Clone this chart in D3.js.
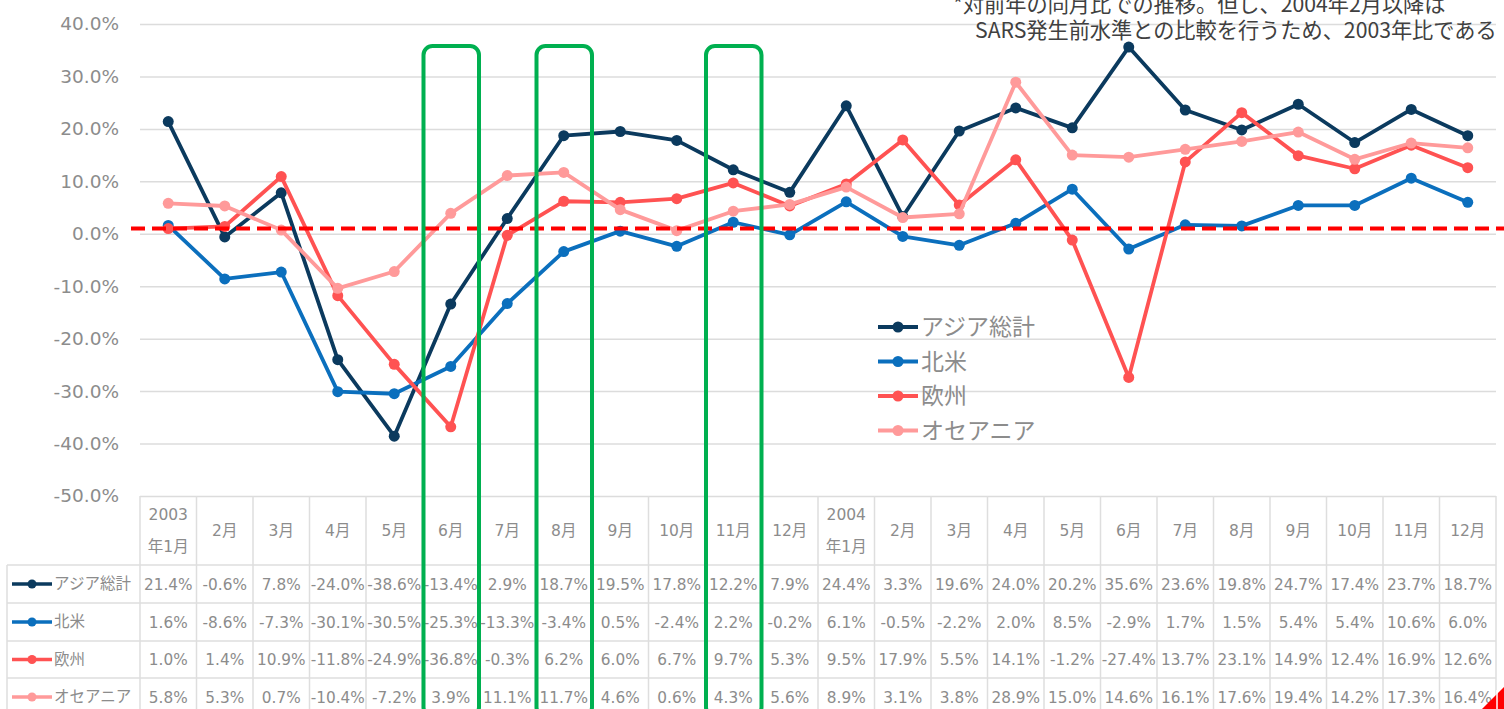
<!DOCTYPE html>
<html lang="ja">
<head>
<meta charset="utf-8">
<script src="https://cdnjs.cloudflare.com/ajax/libs/d3/7.8.5/d3.min.js"></script>
<style>
  body { margin: 0; background: #fff; }
  svg text { font-family: "DejaVu Sans", "Noto Sans CJK JP", sans-serif; }
  svg text.jp { font-family: "Noto Sans CJK JP", "DejaVu Sans", sans-serif; }
</style>
</head>
<body>
<script>
// ---- data
var months = ["2003\n年1月","2月","3月","4月","5月","6月","7月","8月","9月","10月","11月","12月",
              "2004\n年1月","2月","3月","4月","5月","6月","7月","8月","9月","10月","11月","12月"];
var seriesNames = ["アジア総計", "北米", "欧州", "オセアニア"];
var asia    = [21.4,-0.6,7.8,-24.0,-38.6,-13.4,2.9,18.7,19.5,17.8,12.2,7.9,24.4,3.3,19.6,24.0,20.2,35.6,23.6,19.8,24.7,17.4,23.7,18.7];
var nAmerica= [1.6,-8.6,-7.3,-30.1,-30.5,-25.3,-13.3,-3.4,0.5,-2.4,2.2,-0.2,6.1,-0.5,-2.2,2.0,8.5,-2.9,1.7,1.5,5.4,5.4,10.6,6.0];
var europe  = [1.0,1.4,10.9,-11.8,-24.9,-36.8,-0.3,6.2,6.0,6.7,9.7,5.3,9.5,17.9,5.5,14.1,-1.2,-27.4,13.7,23.1,14.9,12.4,16.9,12.6];
var oceania = [5.8,5.3,0.7,-10.4,-7.2,3.9,11.1,11.7,4.6,0.6,4.3,5.6,8.9,3.1,3.8,28.9,15.0,14.6,16.1,17.6,19.4,14.2,17.3,16.4];
var yTicks = [40,30,20,10,0,-10,-20,-30,-40,-50];
var highlightCols = [5, 7, 10];   // 2003年6月, 8月, 11月
var refLine = 1.0;
var note = ["*対前年の同月比での推移。但し、2004年2月以降は",
            "SARS発生前水準との比較を行うため、2003年比である"];

var colors = ["#0b3a5e", "#0b6fbd", "#ff5252", "#ff9a9a"];
var allSeries = [asia, nAmerica, europe, oceania];

// ---- layout
var W = 1504, H = 709;
var plotL = 140, plotR = 1496, plotT = 24, plotB = 496;
var rowY = [565, 603, 641, 678, 716];
var latin = "'DejaVu Sans', 'Noto Sans CJK JP', sans-serif";

var svg = d3.select("body").append("svg").attr("width", W).attr("height", H);

var x = d3.scaleBand().domain(d3.range(months.length)).range([plotL, plotR]);
var y = d3.scaleLinear().domain([-50, 40]).range([plotB, plotT]);
var cx = function(i) { return x(i) + x.bandwidth() / 2; };

// gridlines
svg.append("g")
    .attr("transform", "translate(" + plotL + ",0)")
    .call(d3.axisLeft(y).tickValues(yTicks).tickSize(-(plotR - plotL)).tickFormat(""))
    .call(function(g) { g.select(".domain").remove(); })
    .selectAll("line").attr("stroke", "#dcdcdc").attr("stroke-width", 1.5);

// y labels
svg.append("g")
    .attr("transform", "translate(119,0)")
    .call(d3.axisLeft(y).tickValues(yTicks).tickSize(0).tickPadding(0)
      .tickFormat(function(d) { return d.toFixed(1) + "%"; }))
    .call(function(g) { g.select(".domain").remove(); })
    .selectAll("text").attr("fill", "#8c8c8c").style("font-size", "18.5px").style("font-family", latin);

// ---- data table
var tbl = svg.append("g");
var gridC = "#dedede";
tbl.selectAll("line.v").data(d3.range(months.length + 1)).enter().append("line")
    .attr("x1", function(i) { return i < months.length ? x(i) : plotR; })
    .attr("x2", function(i) { return i < months.length ? x(i) : plotR; })
    .attr("y1", plotB).attr("y2", H + 10)
    .attr("stroke", gridC).attr("stroke-width", 1.5);
tbl.append("line").attr("x1", 7).attr("x2", 7).attr("y1", rowY[0]).attr("y2", H + 10)
    .attr("stroke", gridC).attr("stroke-width", 1.5);
tbl.selectAll("line.h").data(rowY).enter().append("line")
    .attr("x1", 7).attr("x2", plotR).attr("y1", function(d) { return d; }).attr("y2", function(d) { return d; })
    .attr("stroke", gridC).attr("stroke-width", 1.5);

// header
months.forEach(function(m, i) {
  var parts = m.split("\n");
  var t = tbl.append("text").attr("text-anchor", "middle")
      .attr("fill", "#8c8c8c").style("font-size", "15.5px").style("font-family", latin);
  if (parts.length === 1) {
    t.append("tspan").attr("x", cx(i)).attr("y", 536).text(parts[0]);
  } else {
    t.append("tspan").attr("x", cx(i)).attr("y", 520).text(parts[0]);
    t.append("tspan").attr("x", cx(i)).attr("y", 552).text(parts[1]);
  }
});

// rows
allSeries.forEach(function(s, k) {
  var yc = (rowY[k] + rowY[k + 1]) / 2;
  tbl.append("line").attr("x1", 12).attr("x2", 52).attr("y1", yc).attr("y2", yc)
      .attr("stroke", colors[k]).attr("stroke-width", 3.5);
  tbl.append("circle").attr("cx", 32).attr("cy", yc).attr("r", 4.5).attr("fill", colors[k]);
  tbl.append("text").attr("class", "jp").attr("x", 54).attr("y", yc).attr("dy", "0.35em")
      .attr("fill", "#8c8c8c").style("font-size", "15.5px").text(seriesNames[k]);
  tbl.selectAll(null).data(s).enter().append("text")
      .attr("x", function(d, i) { return cx(i); }).attr("y", yc).attr("dy", "0.36em")
      .attr("text-anchor", "middle").attr("fill", "#8c8c8c")
      .style("font-size", "15.3px").style("font-family", latin)
      .text(function(d) { return d.toFixed(1) + "%"; });
});

// ---- series lines
var line = d3.line().x(function(d, i) { return cx(i); }).y(function(d) { return y(d); });
allSeries.forEach(function(s, k) {
  var g = svg.append("g");
  g.append("path").datum(s).attr("d", line).attr("fill", "none")
      .attr("stroke", colors[k]).attr("stroke-width", 3.8).attr("stroke-linejoin", "round");
  g.selectAll("circle").data(s).enter().append("circle")
      .attr("cx", function(d, i) { return cx(i); }).attr("cy", function(d) { return y(d); })
      .attr("r", 5.5).attr("fill", colors[k]);
});

// reference dashed line
svg.append("line").attr("x1", 131).attr("x2", W).attr("y1", y(refLine)).attr("y2", y(refLine))
    .attr("stroke", "#ff0000").attr("stroke-width", 4).attr("stroke-dasharray", "14,7");

// ---- legend
var lg = svg.append("g").attr("transform", "translate(878,327)");
seriesNames.forEach(function(n, k) {
  var yy = k * 34.5;
  lg.append("line").attr("x1", 0).attr("x2", 40).attr("y1", yy).attr("y2", yy)
      .attr("stroke", colors[k]).attr("stroke-width", 3.8);
  lg.append("circle").attr("cx", 20).attr("cy", yy).attr("r", 5.5).attr("fill", colors[k]);
  lg.append("text").attr("class", "jp").attr("x", 43).attr("y", yy).attr("dy", "0.35em")
      .attr("fill", "#8c8c8c").style("font-size", "23px").text(n);
});

// ---- highlight boxes
svg.selectAll("rect.hl").data(highlightCols).enter().append("rect")
    .attr("x", function(i) { return x(i) + 1; }).attr("y", 46)
    .attr("width", x.bandwidth() - 1).attr("height", 670)
    .attr("rx", 9).attr("fill", "none")
    .attr("stroke", "#00b050").attr("stroke-width", 4);

// ---- note
svg.append("text").attr("class", "jp").attr("x", 953).attr("y", 12)
    .attr("fill", "#404040").style("font-size", "21.2px").text(note[0]);
svg.append("text").attr("class", "jp").attr("x", 975).attr("y", 38)
    .attr("fill", "#404040").style("font-size", "21.2px").text(note[1]);

// corner mark
svg.append("path").attr("d", "M1482,709L1504,687L1504,709Z").attr("fill", "#ff0000");
svg.append("line").attr("x1", 1497).attr("x2", 1497).attr("y1", 690).attr("y2", 709)
    .attr("stroke", "#fff").attr("stroke-width", 1.5);
</script>
</body>
</html>
